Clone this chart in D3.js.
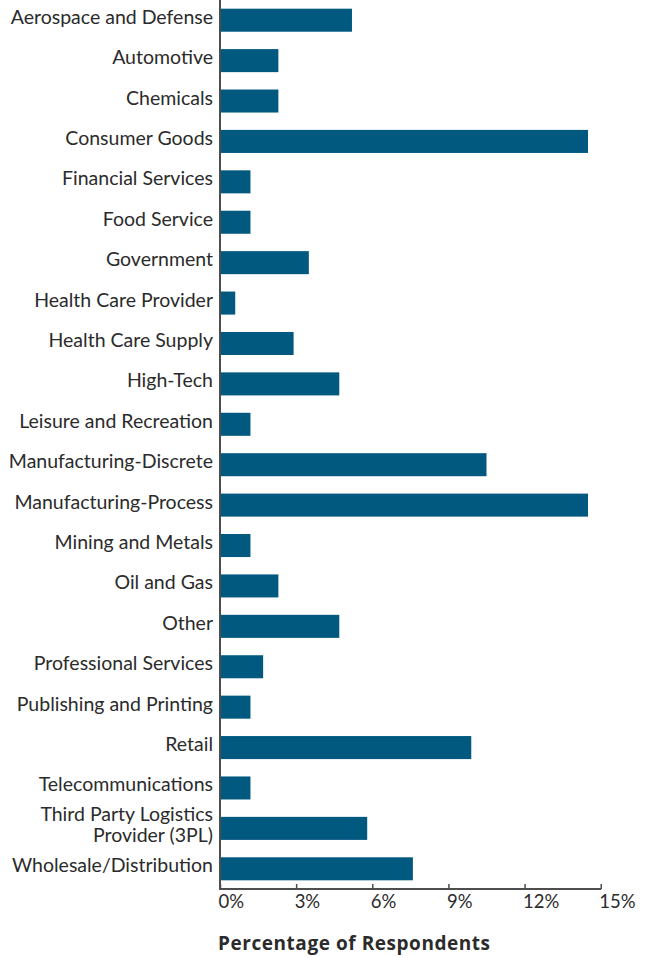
<!DOCTYPE html>
<html>
<head>
<meta charset="utf-8">
<script src="https://cdn.jsdelivr.net/npm/d3@7"></script>
<style>
  html, body { margin: 0; padding: 0; background: #fff; }
  svg { display: block; }
  text { font-family: Lato, "Open Sans", sans-serif; fill: #2b2b2b; }
</style>
</head>
<body>
<svg id="chart" width="649" height="958"></svg>
<script>
// Industry of respondents (share of all respondents, %)
const categories = [
  "Aerospace and Defense",
  "Automotive",
  "Chemicals",
  "Consumer Goods",
  "Financial Services",
  "Food Service",
  "Government",
  "Health Care Provider",
  "Health Care Supply",
  "High-Tech",
  "Leisure and Recreation",
  "Manufacturing-Discrete",
  "Manufacturing-Process",
  "Mining and Metals",
  "Oil and Gas",
  "Other",
  "Professional Services",
  "Publishing and Printing",
  "Retail",
  "Telecommunications",
  "Third Party Logistics\nProvider (3PL)",
  "Wholesale/Distribution"
];
const values = [
  5.2, 2.3, 2.3, 14.5, 1.2, 1.2, 3.5, 0.6, 2.9, 4.7, 1.2,
  10.5, 14.5, 1.2, 2.3, 4.7, 1.7, 1.2, 9.9, 1.2, 5.8, 7.6
];
const tickValues = [0, 3, 6, 9, 12, 15];
const axisTitle = "Percentage of Respondents";

const data = categories.map((c, i) => ({ name: c, value: values[i] }));

const svg = d3.select("#chart");
const plotLeft = 220, plotRight = 600.7, plotTop = 0, plotBottom = 889;

const x = d3.scaleLinear().domain([0, 15]).range([plotLeft, plotRight]);
const y = d3.scaleBand()
  .domain(categories)
  .range([plotTop, plotBottom])
  .paddingInner(0.43)
  .paddingOuter(0.215);

// bars
svg.append("g")
  .selectAll("rect")
  .data(data)
  .join("rect")
  .attr("x", x(0))
  .attr("y", d => y(d.name))
  .attr("width", d => x(d.value) - x(0))
  .attr("height", y.bandwidth())
  .attr("fill", "#02597f");

// category labels (multi-line names are split into stacked tspans)
const labels = svg.append("g")
  .selectAll("text")
  .data(data)
  .join("text")
  .attr("text-anchor", "end")
  .style("font-size", "19.5px");

labels.each(function(d) {
  const lines = d.name.split("\n");
  const cy = y(d.name) + y.bandwidth() / 2;
  const lh = 21;
  const t = d3.select(this);
  lines.forEach((ln, k) => {
    t.append("tspan")
      .attr("x", 213)
      .attr("y", cy + 3.5 + (k - (lines.length - 1) / 2) * lh)
      .text(ln);
  });
});

// vertical axis line
svg.append("line")
  .attr("x1", plotLeft).attr("x2", plotLeft)
  .attr("y1", 0).attr("y2", plotBottom)
  .attr("stroke", "#4d4d4d")
  .attr("stroke-width", 2);

// bottom axis, ticks pointing up into the plot
const xAxis = d3.axisBottom(x)
  .tickValues(tickValues)
  .tickSizeInner(-5)
  .tickSizeOuter(0)
  .tickFormat(d => d + "%");

const gx = svg.append("g")
  .attr("transform", `translate(0,${plotBottom})`)
  .call(xAxis);

gx.select(".domain").attr("stroke", "#4d4d4d").attr("stroke-width", 2)
  .attr("d", `M${plotLeft - 1},0H${plotRight + 0.5}`);
gx.selectAll(".tick line").attr("stroke", "#4d4d4d").attr("stroke-width", 1.5);
gx.selectAll(".tick text")
  .attr("text-anchor", "start")
  .attr("x", -2)
  .attr("y", 19)
  .attr("dy", null)
  .style("font-size", "18.5px")
  .style("font-family", "Lato, 'Open Sans', sans-serif")
  .style("fill", "#2b2b2b");

// axis title
svg.append("text")
  .attr("x", 218)
  .attr("y", 950)
  .style("font-family", "'Open Sans', Lato, sans-serif")
  .style("font-size", "19px")
  .style("font-weight", "bold")
  .style("letter-spacing", "0.55px")
  .text(axisTitle);
</script>
</body>
</html>
